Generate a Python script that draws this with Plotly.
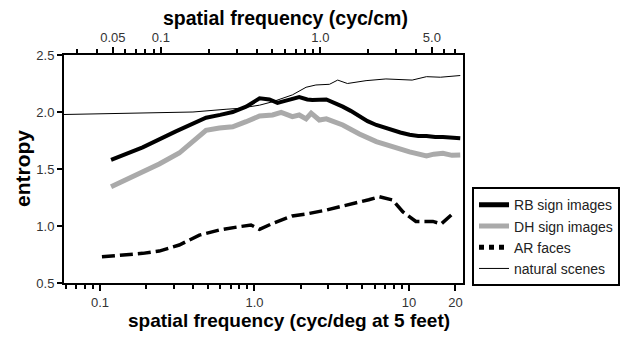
import plotly.graph_objects as go
import math

# ---- data ----
rb_x = [0.118, 0.189, 0.31, 0.486, 0.6, 0.723, 0.883, 1.0, 1.08, 1.25, 1.41, 1.6, 1.76, 1.95, 2.2, 2.37,
        2.92, 3.3, 3.73, 4.2, 4.78, 5.4, 6.15, 7.0, 7.86, 8.8, 10.1, 11.5, 13.0, 14.8, 16.6, 18.8, 21.5]
rb_y = [1.58, 1.69, 1.83, 1.95, 1.975, 2.0, 2.047, 2.09, 2.12, 2.11, 2.08, 2.10, 2.114, 2.13, 2.11, 2.105,
        2.11, 2.08, 2.047, 2.01, 1.96, 1.92, 1.886, 1.86, 1.84, 1.82, 1.80, 1.79, 1.79, 1.78, 1.78, 1.775, 1.77]

dh_x = [0.118, 0.189, 0.242, 0.326, 0.398, 0.486, 0.593, 0.723, 0.883, 1.08, 1.31, 1.49, 1.76, 1.95,
        2.16, 2.33, 2.63, 2.92, 3.73, 4.78, 6.15, 7.86, 10.1, 13.0, 14.5, 16.6, 19.0, 21.5]
dh_y = [1.345, 1.476, 1.544, 1.64, 1.74, 1.84, 1.86, 1.87, 1.915, 1.965, 1.974, 1.997, 1.96, 1.974,
        1.94, 1.99, 1.93, 1.94, 1.886, 1.807, 1.74, 1.69, 1.65, 1.614, 1.63, 1.638, 1.62, 1.623]

ar_x = [0.103, 0.189, 0.242, 0.326, 0.44, 0.593, 0.798, 0.95, 1.08, 1.31, 1.76, 2.16, 2.92, 3.73,
        4.78, 5.5, 6.44, 7.86, 9.12, 11.1, 14.3, 16.2, 18.8]
ar_y = [0.73, 0.76, 0.78, 0.833, 0.92, 0.965, 0.994, 1.009, 0.97, 1.023, 1.088, 1.105, 1.14, 1.175,
        1.205, 1.23, 1.257, 1.228, 1.125, 1.04, 1.04, 1.018, 1.096]

ns_x = [0.058, 0.1, 0.2, 0.4, 0.655, 0.798, 1.08, 1.31, 1.76, 2.16, 2.5, 3.06, 3.46, 4.0, 5.28,
        7.1, 10.5, 13.0, 16.0, 21.5]
ns_y = [1.978, 1.983, 1.99, 2.0, 2.024, 2.032, 2.06, 2.09, 2.15, 2.217, 2.237, 2.243, 2.28, 2.25,
        2.275, 2.29, 2.28, 2.31, 2.305, 2.32]

bottom_major = [0.1, 1.0, 10, 20]
bottom_labels = ["0.1", "1.0", "10", "20"]
bottom_minor = [0.06, 0.07, 0.08, 0.09, 0.2, 0.3, 0.4, 0.5, 0.6, 0.7, 0.8, 0.9,
                2, 3, 4, 5, 6, 7, 8, 9]
top_major = [0.05, 0.1, 1.0, 5.0]
top_labels = ["0.05", "0.1", "1.0", "5.0"]
top_minor = [0.03, 0.04, 0.06, 0.07, 0.08, 0.09, 0.2, 0.3, 0.4, 0.5, 0.6, 0.7, 0.8, 0.9,
             2, 3, 4, 6, 7]
y_ticks = [0.5, 1.0, 1.5, 2.0, 2.5]
y_labels = ["0.5", "1.0", "1.5", "2.0", "2.5"]

FONT = "Liberation Sans, Arial, sans-serif"

fig = go.Figure()
fig.add_trace(go.Scatter(x=ns_x, y=ns_y, mode="lines", name="natural scenes",
                         line=dict(color="black", width=1), showlegend=False))
fig.add_trace(go.Scatter(x=dh_x, y=dh_y, mode="lines", name="DH sign images",
                         line=dict(color="#aaaaaa", width=5), showlegend=False))
fig.add_trace(go.Scatter(x=rb_x, y=rb_y, mode="lines", name="RB sign images",
                         line=dict(color="black", width=4), showlegend=False))
fig.add_trace(go.Scatter(x=ar_x, y=ar_y, mode="lines", name="AR faces",
                         line=dict(color="black", width=3.5, dash="13px,5px"), showlegend=False))

# legend entries
fig.add_trace(go.Scatter(x=[None], y=[None], mode="lines", name="RB sign images",
                         line=dict(color="black", width=5)))
fig.add_trace(go.Scatter(x=[None], y=[None], mode="lines", name="DH sign images",
                         line=dict(color="#aaaaaa", width=5)))
fig.add_trace(go.Scatter(x=[None], y=[None], mode="lines", name="AR faces",
                         line=dict(color="black", width=5, dash="dot")))
fig.add_trace(go.Scatter(x=[None], y=[None], mode="lines", name="natural scenes",
                         line=dict(color="black", width=1)))
# anchor trace for top axis
fig.add_trace(go.Scatter(x=[None], y=[None], xaxis="x2", showlegend=False, hoverinfo="skip"))

fig.update_layout(
    width=633, height=339,
    margin=dict(l=64, r=170, t=55, b=56),
    paper_bgcolor="white", plot_bgcolor="white",
    font=dict(family=FONT, size=13, color="#333333"),
    showlegend=True,
    legend=dict(x=1.0226, xanchor="left", y=0.42, yanchor="top",
                bordercolor="black", borderwidth=2, bgcolor="white",
                font=dict(size=14, color="#222222"), tracegroupgap=0),
    xaxis=dict(type="log", range=[math.log10(0.0585), math.log10(22.4)],
               tickvals=bottom_major, ticktext=bottom_labels,
               ticks="outside", ticklen=6, tickwidth=1.5, tickcolor="black",
               minor=dict(tickvals=bottom_minor, ticks="outside", ticklen=4, tickwidth=1.5, tickcolor="black"),
               showline=True, linecolor="black", linewidth=2, showgrid=False, zeroline=False,
               tickfont=dict(size=13, color="#333333")),
    xaxis2=dict(type="log", overlaying="x", side="top", anchor="y",
                range=[math.log10(0.0247), math.log10(7.84)],
                tickvals=top_major, ticktext=top_labels,
                ticks="outside", ticklen=6, tickwidth=1.5, tickcolor="black",
                minor=dict(tickvals=top_minor, ticks="outside", ticklen=4, tickwidth=1.5, tickcolor="black"),
                showline=True, linecolor="black", linewidth=2, showgrid=False, zeroline=False,
                tickfont=dict(size=13, color="#333333")),
    yaxis=dict(range=[0.5, 2.5], tickvals=y_ticks, ticktext=y_labels,
               ticks="outside", ticklen=5, tickwidth=1.5, tickcolor="black",
               showline=True, mirror=True, linecolor="black", linewidth=2,
               showgrid=False, zeroline=False, tickfont=dict(size=13, color="#333333")),
    annotations=[
        dict(text="<b>spatial frequency (cyc/cm)</b>", xref="paper", yref="paper",
             x=0.554, y=1.0, yshift=37, xanchor="center", yanchor="middle", showarrow=False,
             font=dict(size=19.5, color="black", family=FONT)),
        dict(text="<b>spatial frequency (cyc/deg at 5 feet)</b>", xref="paper", yref="paper",
             x=0.565, y=0.0, yshift=-37, xanchor="center", yanchor="middle", showarrow=False,
             font=dict(size=19, color="black", family=FONT)),
        dict(text="<b>entropy</b>", xref="paper", yref="paper",
             x=0.0, xshift=-42, y=0.5, xanchor="center", yanchor="middle", showarrow=False,
             textangle=-90, font=dict(size=21, color="black", family=FONT)),
    ],
)

fig.write_html("out.html")
